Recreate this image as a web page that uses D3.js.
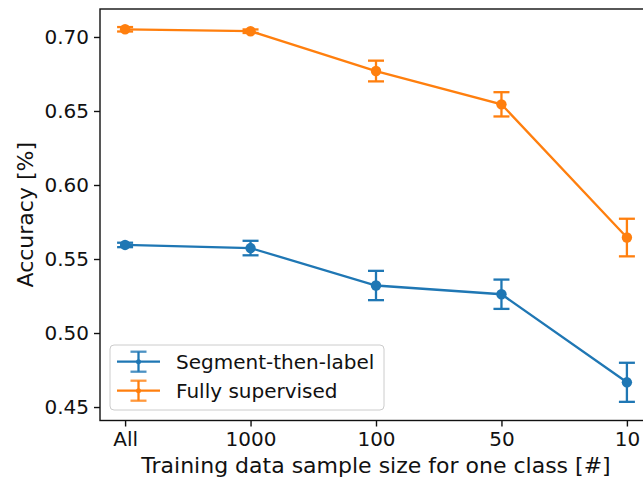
<!DOCTYPE html>
<html><head><meta charset="utf-8">
<script src="https://cdn.jsdelivr.net/npm/d3@7"></script>
<style>body{margin:0;background:#fff}svg{display:block}text{font-family:"DejaVu Sans",sans-serif;fill:#111}</style>
</head><body><svg id="c" width="643" height="481"></svg>
<script>
const categories = ["All", "1000", "100", "50", "10"];
const seriesNames = ["Segment-then-label", "Fully supervised"];
const segmentValues = [0.5595, 0.5574, 0.5321, 0.5262, 0.4667];
const segmentErrors = [0.0015, 0.0049, 0.0099, 0.0099, 0.0132];
const fullyValues = [0.7052, 0.7039, 0.6770, 0.6545, 0.5645];
const fullyErrors = [0.0015, 0.0012, 0.0070, 0.0082, 0.0127];
const yTicks = [0.45, 0.50, 0.55, 0.60, 0.65, 0.70];
const colors = ["#1f77b4", "#ff7f0e"];

const svg = d3.select("#c");
const L = 100, R = 652, T = 9, B = 420.5;
const x = d3.scaleLinear().domain([-0.2, 4.2]).range([L, R]);
const y = d3.scaleLinear().domain([0.4409, 0.7189]).range([B, T]);

const plot = svg.append("g");
const series = [
  {name: seriesNames[0], v: segmentValues, e: segmentErrors, c: colors[0]},
  {name: seriesNames[1], v: fullyValues, e: fullyErrors, c: colors[1]}
];
const cap = 8;
series.forEach(s => {
  const g = plot.append("g");
  const line = d3.line().x((d,i) => x(i)).y(d => y(d));
  g.append("path").attr("d", line(s.v)).attr("fill","none").attr("stroke", s.c).attr("stroke-width", 2.3);
  s.v.forEach((v,i) => {
    const cx = x(i), y1 = y(v + s.e[i]), y2 = y(v - s.e[i]);
    g.append("line").attr("x1",cx).attr("x2",cx).attr("y1",y1).attr("y2",y2).attr("stroke",s.c).attr("stroke-width",2.3);
    [y1,y2].forEach(yy => g.append("line").attr("x1",cx-cap).attr("x2",cx+cap).attr("y1",yy).attr("y2",yy).attr("stroke",s.c).attr("stroke-width",2.3));
    g.append("circle").attr("cx",cx).attr("cy",y(v)).attr("r",5.2).attr("fill",s.c);
  });
});

// axes
const xAxis = d3.axisBottom(x).tickValues(d3.range(categories.length)).tickFormat(i => categories[i]).tickSize(6).tickPadding(5);
const yAxis = d3.axisLeft(y).tickValues(yTicks).tickFormat(d3.format(".2f")).tickSize(6).tickPadding(5);
const gx = svg.append("g").attr("transform",`translate(0,${B})`).call(xAxis);
const gy = svg.append("g").attr("transform",`translate(${L},0)`).call(yAxis);
[gx, gy].forEach(g => {
  g.select(".domain").remove();
  g.selectAll(".tick line").attr("stroke","#111").attr("stroke-width",1.4);
  g.selectAll(".tick text").attr("font-size",20).attr("fill","#111").attr("font-family","DejaVu Sans");
});
// spines
svg.append("rect").attr("x",L).attr("y",T).attr("width",R-L).attr("height",B-T).attr("fill","none").attr("stroke","#111").attr("stroke-width",1.4);

// labels
svg.append("text").attr("x",(L+R)/2).attr("y",473).attr("text-anchor","middle").attr("font-size",22).text("Training data sample size for one class [#]");
svg.append("text").attr("transform",`translate(33,${(T+B)/2}) rotate(-90)`).attr("text-anchor","middle").attr("font-size",22).text("Accuracy [%]");

// legend
const lg = svg.append("g");
lg.append("rect").attr("x",110).attr("y",345).attr("width",274).attr("height",65).attr("rx",4).attr("fill","#fff").attr("fill-opacity",0.8).attr("stroke","#cccccc").attr("stroke-width",1);
series.forEach((s,i) => {
  const yy = 361.7 + i*29;
  const g = lg.append("g");
  g.append("line").attr("x1",117).attr("x2",160).attr("y1",yy).attr("y2",yy).attr("stroke",s.c).attr("stroke-width",2.3);
  g.append("line").attr("x1",138.5).attr("x2",138.5).attr("y1",yy-10).attr("y2",yy+10).attr("stroke",s.c).attr("stroke-width",2.3);
  [yy-10,yy+10].forEach(q => g.append("line").attr("x1",130.5).attr("x2",146.5).attr("y1",q).attr("y2",q).attr("stroke",s.c).attr("stroke-width",2.3).attr("stroke-opacity",0.8));
  g.append("circle").attr("cx",138.5).attr("cy",yy).attr("r",2.5).attr("fill",s.c);
  g.append("text").attr("x",176).attr("y",yy).attr("dy","0.36em").attr("font-size",20).text(s.name);
});
</script></body></html>
